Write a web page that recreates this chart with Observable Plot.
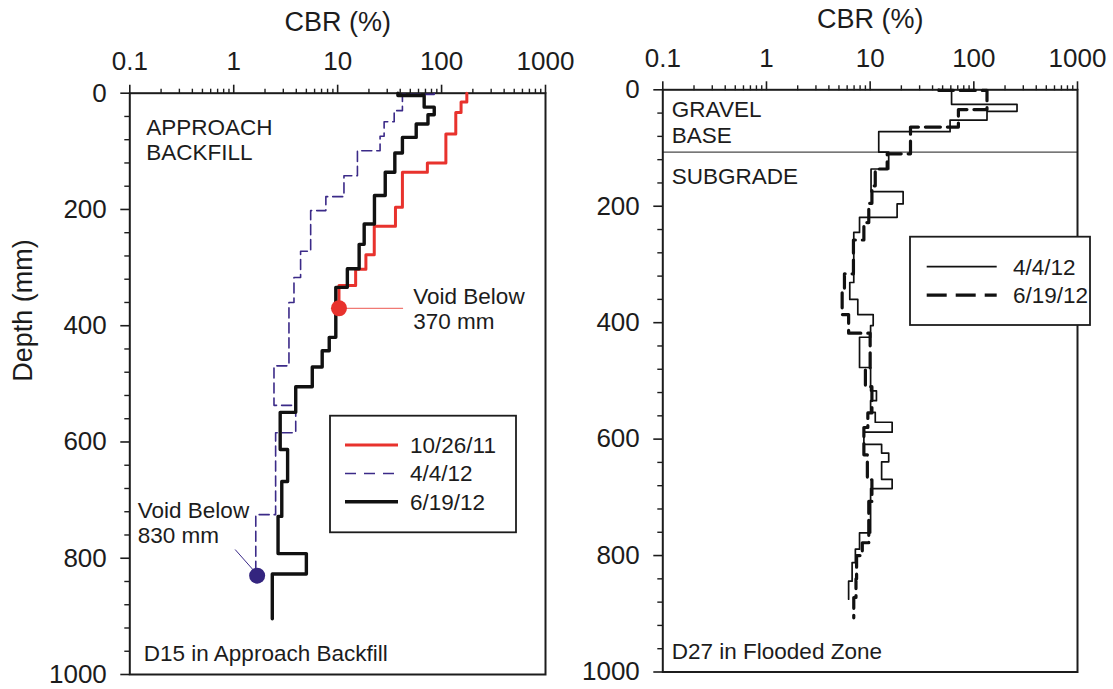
<!DOCTYPE html>
<html><head><meta charset="utf-8">
<script src="https://cdn.jsdelivr.net/npm/d3@7"></script>
<script src="https://cdn.jsdelivr.net/npm/@observablehq/plot@0.6"></script>
<style>
html,body{margin:0;padding:0;background:#fff;}
#chart{position:relative;width:1113px;height:689px;overflow:hidden;background:#fff;}
#chart svg{position:absolute;left:0;top:0;}
</style></head><body><div id="chart"></div>
<script>
// ---------- data ----------
const xTicks = [0.1, 1, 10, 100, 1000];
const xTickLabels = ["0.1", "1", "10", "100", "1000"];
const yTicks = [0, 200, 400, 600, 800, 1000];

// Left panel: D15 in Approach Backfill (depth = top of layer, cbr = CBR of that layer)
const d15_102611_depth = [0, 15, 33, 70, 120, 136, 196, 229, 278, 303, 331, 371];
const d15_102611_cbr   = [175, 154, 137, 110, 73, 42, 36, 22.5, 18.7, 14.9, 10.3, 10.3];
const d15_040412_depth = [0, 2, 30, 49, 74, 99, 142, 178, 202, 272, 317, 360, 469, 537, 584, 725, 827];
const d15_040412_cbr   = [85, 42, 35, 28, 25.6, 15.5, 11.5, 7.7, 5.5, 4.4, 3.8, 3.4, 2.44, 3.95, 2.53, 1.63, 1.63];
const d15_061912_depth = [0, 4, 24, 37, 53, 76, 103, 136, 176, 225, 260, 302, 334, 420, 443, 471, 505, 549, 613, 668, 728, 792, 827, 904];
const d15_061912_cbr   = [38, 68, 85, 74, 57, 42, 35.5, 28.7, 22.6, 18, 16.1, 12.4, 9.6, 8.3, 7.1, 5.7, 3.95, 2.8, 3.3, 2.9, 2.67, 5.0, 2.35, 2.35];
const d15_voids = [{series: "10/26/11", cbr: 10.3, depth: 370}, {series: "4/4/12", cbr: 1.68, depth: 830}];

// Right panel: D27 in Flooded Zone
const d27_040412_depth = [0, 25, 37, 52, 72, 107, 136, 175, 196, 219, 245, 331, 360, 386, 405, 425, 477, 517, 534, 554, 571, 588, 609, 624, 639, 669, 685, 761, 789, 812, 844, 875];
const d27_040412_cbr   = [61, 261, 134, 59, 12.1, 15.1, 10.2, 20.8, 18.2, 7.9, 6.95, 6.36, 7.6, 10.7, 10.1, 7.9, 10.1, 11.5, 10.1, 11.2, 16.3, 8.7, 12.9, 15.1, 12.9, 16.3, 10.1, 7.9, 7.2, 6.7, 6.2, 6.2];
const d27_061912_depth = [0, 1, 34, 64, 110, 136, 165, 195, 228, 258, 316, 347, 386, 418, 479, 510, 555, 580, 627, 670, 707, 778, 800, 840, 872, 907];
const d27_061912_cbr   = [46, 134, 71, 24.5, 14.6, 11.2, 10.4, 9.7, 8.7, 6.9, 5.65, 5.37, 6.2, 10.0, 9.0, 10.4, 9.5, 8.7, 9.4, 10.4, 9.7, 8.4, 7.4, 7.3, 6.95, 6.95];
const d27_layerBoundary = [107];

// ---------- layout / style ----------
const W = 1113, H = 689;
const FONT = "'Liberation Sans', Arial, Helvetica, sans-serif";
const INK = "#1c1c1c";
const RED = "#e8322d", PURPLE = "#3b2a88";
const pts = (d, c) => d.map((v, i) => ({depth: v, cbr: c[i]}));
const minorX = [];
for (const dec of [0.1, 1, 10, 100]) for (let k = 2; k <= 9; k++) minorX.push(+(dec * k).toPrecision(3));
const minorY = d3.range(40, 1000, 40).filter(v => v % 200 !== 0);

function axes() {
  return [
    Plot.axisX({anchor: "top", ticks: minorX, tickSize: 5, fill: "none", label: null, strokeWidth: 1.4}),
    Plot.axisX({anchor: "top", ticks: xTicks, tickSize: 9, tickPadding: 14, strokeWidth: 1.6,
      tickFormat: d => xTickLabels[xTicks.indexOf(d)], fontSize: 26, label: null}),
    Plot.axisY({anchor: "left", ticks: minorY, tickSize: 5, fill: "none", label: null, strokeWidth: 1.4}),
    Plot.axisY({anchor: "left", ticks: yTicks, tickSize: 9, tickPadding: 14, strokeWidth: 1.6,
      tickFormat: d => String(d), fontSize: 26, label: null}),
    Plot.frame({stroke: INK, strokeWidth: 2}),
    Plot.text(["CBR (%)"], {frameAnchor: "top", lineAnchor: "bottom", dy: -62, fontSize: 27, fill: INK})
  ];
}
const annot = (t, dx, dy, anchor = "top-left") =>
  Plot.text([t], {frameAnchor: anchor, textAnchor: "start", lineAnchor: "top", dx, dy, fontSize: 22.5, lineHeight: 1.12, fill: INK});

const common = {
  width: W, height: H,
  style: {fontFamily: FONT, background: "transparent", overflow: "visible", color: INK},
  x: {type: "log", domain: [0.1, 1000]},
  y: {domain: [0, 1000], reverse: true}
};

const redVoid = d15_voids[0], purVoid = d15_voids[1];
const left = Plot.plot({
  ...common,
  marginLeft: 129.3, marginRight: W - 545, marginTop: 92.7, marginBottom: H - 674,
  marks: [
    ...axes(),
    Plot.text(["Depth (mm)"], {frameAnchor: "left", rotate: -90, dx: -106, dy: -2, fontSize: 27, fill: INK}),
    Plot.line(pts(d15_040412_depth, d15_040412_cbr), {x: "cbr", y: "depth", curve: "step-before", stroke: PURPLE, strokeWidth: 1.6, strokeDasharray: "10,5"}),
    Plot.line(pts(d15_102611_depth, d15_102611_cbr), {x: "cbr", y: "depth", curve: "step-before", stroke: RED, strokeWidth: 3}),
    Plot.line(pts(d15_061912_depth, d15_061912_cbr), {x: "cbr", y: "depth", curve: "step-before", stroke: "#111", strokeWidth: 3.4}),
    // leader lines (offsets in pixels converted through the scales' units)
    Plot.link([redVoid], {x1: "cbr", y1: "depth", x2: d => d.cbr * Math.pow(10, 64 / 103.8), y2: "depth", stroke: "#f07a74", strokeWidth: 1.2}),
    Plot.link([purVoid], {x1: d => d.cbr * Math.pow(10, -22 / 103.8), y1: d => d.depth - 45, x2: d => d.cbr * Math.pow(10, -4 / 103.8), y2: d => d.depth - 10, stroke: PURPLE, strokeWidth: 1}),
    Plot.dot(d15_voids, {x: "cbr", y: "depth", r: 8, fill: d => d.series === "10/26/11" ? RED : "#34257f", stroke: "none"}),
    annot("APPROACH\nBACKFILL", 16.5, 24),
    annot("Void Below\n370 mm", 283.5, 192.5),
    annot("Void Below\n830 mm", 8, 406.5),
    annot("D15 in Approach Backfill", 14, 549.5)
  ]
});

const right = Plot.plot({
  ...common,
  marginLeft: 662.3, marginRight: W - 1077, marginTop: 89.3, marginBottom: H - 671.5,
  marks: [
    ...axes(),
    Plot.ruleY(d27_layerBoundary, {stroke: INK, strokeWidth: 1}),
    Plot.line(pts(d27_040412_depth, d27_040412_cbr), {x: "cbr", y: "depth", curve: "step-before", stroke: "#111", strokeWidth: 1.7}),
    Plot.line(pts(d27_061912_depth, d27_061912_cbr), {x: "cbr", y: "depth", curve: "step-before", stroke: "#111", strokeWidth: 3.2, strokeDasharray: "15,7"}),
    annot("GRAVEL\nBASE", 9, 9.7),
    annot("SUBGRADE", 9, 76.5),
    annot("D27 in Flooded Zone", 9, 551.5)
  ]
});

const chart = document.getElementById("chart");
chart.appendChild(left);
chart.appendChild(right);

// legends (boxes inside panels)
function legend(svg, box, items) {
  const g = d3.select(svg).append("g").attr("font-family", FONT).attr("font-size", 22.5)
    .attr("fill", INK).attr("text-anchor", "start");
  g.append("rect").attr("x", box.x).attr("y", box.y).attr("width", box.w).attr("height", box.h)
    .attr("fill", "#fff").attr("stroke", INK).attr("stroke-width", 1.8);
  items.forEach((it, i) => {
    const y = box.row0 + i * box.dy;
    g.append("line").attr("x1", box.lx1).attr("x2", box.lx2).attr("y1", y).attr("y2", y)
      .attr("stroke", it.stroke).attr("stroke-width", it.width).attr("stroke-dasharray", it.dash || null);
    g.append("text").attr("x", box.tx).attr("y", y + 8).attr("text-anchor", "start").text(it.label);
  });
}
legend(left, {x: 330, y: 415.7, w: 186, h: 116.6, row0: 445, dy: 28.4, lx1: 345, lx2: 398, tx: 410}, [
  {label: "10/26/11", stroke: RED, width: 3},
  {label: "4/4/12", stroke: PURPLE, width: 1.5, dash: "11,8"},
  {label: "6/19/12", stroke: "#111", width: 3.4}
]);
legend(right, {x: 910, y: 236.7, w: 180, h: 88.3, row0: 266.7, dy: 28.4, lx1: 926.7, lx2: 996.7, tx: 1013}, [
  {label: "4/4/12", stroke: "#111", width: 1.7},
  {label: "6/19/12", stroke: "#111", width: 3.2, dash: "20,9"}
]);
</script></body></html>
